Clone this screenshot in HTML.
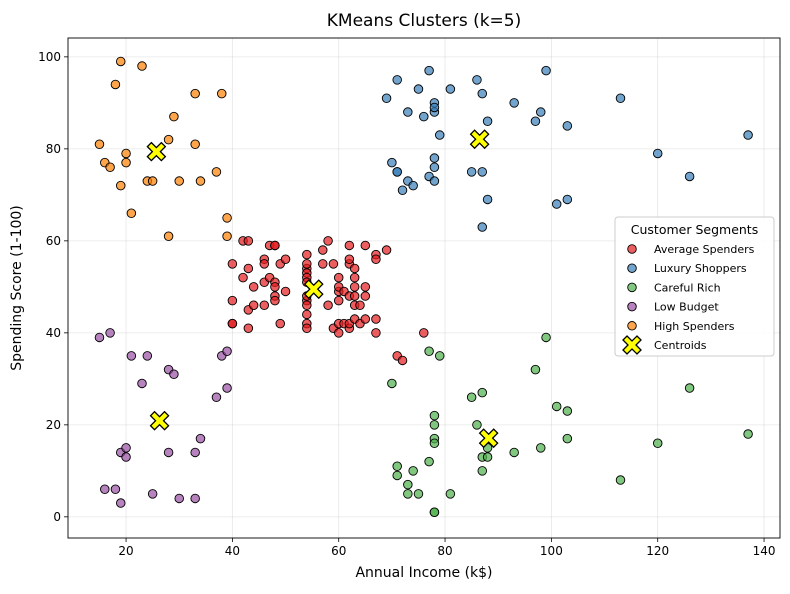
<!DOCTYPE html>
<html><head><meta charset="utf-8"><style>
body{margin:0;background:#fff;font-family:"Liberation Sans","DejaVu Sans",sans-serif}
svg text{font-family:"DejaVu Sans","Liberation Sans",sans-serif}
</style></head><body>
<svg id="chart" width="790" height="589" xmlns="http://www.w3.org/2000/svg"></svg>
<script>
const income=[15,15,16,16,17,17,18,18,19,19,19,19,20,20,20,20,21,21,23,23,24,24,25,25,28,28,28,28,29,29,30,30,33,33,33,33,34,34,37,37,38,38,39,39,39,39,40,40,40,40,42,42,43,43,43,43,44,44,46,46,46,46,47,47,48,48,48,48,48,48,49,49,50,50,54,54,54,54,54,54,54,54,54,54,54,54,57,57,58,58,59,59,60,60,60,60,60,60,61,61,62,62,62,62,62,62,63,63,63,63,63,63,64,64,65,65,65,65,67,67,67,67,69,69,70,70,71,71,71,71,71,71,72,72,73,73,73,73,74,74,75,75,76,76,77,77,77,77,78,78,78,78,78,78,78,78,78,78,78,78,79,79,81,81,85,85,86,86,87,87,87,87,87,87,88,88,88,88,93,93,97,97,98,98,99,99,101,101,103,103,103,103,113,113,120,120,126,126,137,137];
const score=[39,81,6,77,40,76,6,94,3,72,14,99,15,77,13,79,35,66,29,98,35,73,5,73,14,82,32,61,31,87,4,73,4,92,14,81,17,73,26,75,35,92,36,61,28,65,55,47,42,42,52,60,54,60,45,41,50,46,51,46,56,55,52,59,51,59,50,48,59,47,55,42,49,56,47,54,53,48,52,42,51,55,41,44,57,46,58,55,60,46,55,41,49,40,42,52,47,50,42,49,41,48,59,55,56,42,50,46,43,48,52,54,42,46,48,50,43,59,43,57,56,40,58,91,29,77,35,95,11,75,9,75,34,71,5,88,7,73,10,72,5,93,40,87,12,97,36,74,22,90,17,88,20,76,16,89,1,78,1,73,35,83,5,93,26,75,20,95,27,63,13,75,10,92,13,86,15,69,14,90,32,86,15,88,39,97,24,68,17,85,23,69,8,91,16,79,28,74,18,83];
const labels=("3434343434343434343434343434343434343434343434"+"0000000000"+"0000000000"+"0000000000"+"0000000000"+"0000000000"+"0000000000"+"0000000000"+"0000000"+"121012121012121212101"+"21212121212121212121212121212121212121212121212121212121").split("").map(Number);
const clusterNames=["Average Spenders","Luxury Shoppers","Careful Rich","Low Budget","High Spenders"];
const clusterColors=["#e41a1c","#377eb8","#4daf4a","#984ea3","#ff7f00"];
const centroidX=[55.3,86.5,88.2,26.3,25.7];
const centroidY=[49.5,82.1,17.1,20.9,79.4];
const xTicks=[20,40,60,80,100,120,140];
const yTicks=[0,20,40,60,80,100];

const NS="http://www.w3.org/2000/svg";
const svg=document.getElementById("chart");
const L=68,R=780,T=38,B=538;
const xMin=9.08,xMax=143.0,yMin=-4.6,yMax=104.1;
const sx=v=>L+(v-xMin)/(xMax-xMin)*(R-L);
const sy=v=>B-(v-yMin)/(yMax-yMin)*(B-T);
function mk(tag,attrs,parent){const e=document.createElementNS(NS,tag);for(const k in attrs)e.setAttribute(k,attrs[k]);(parent||svg).appendChild(e);return e;}

const title=mk("text",{x:(L+R)/2,y:26,"text-anchor":"middle","font-size":"17"});
title.textContent="KMeans Clusters (k=5)";



const grid=mk("g",{});


xTicks.forEach(t=>{
  mk("line",{x1:sx(t),x2:sx(t),y1:T,y2:B,stroke:"#b0b0b0","stroke-opacity":0.3,"stroke-width":0.8},grid);
  mk("line",{x1:sx(t),x2:sx(t),y1:B,y2:B+4,stroke:"#000","stroke-width":0.8});
  const tx=mk("text",{x:sx(t),y:B+17,"text-anchor":"middle","font-size":"12"});
  tx.textContent=t;
  
  
});
yTicks.forEach(t=>{
  mk("line",{x1:L,x2:R,y1:sy(t),y2:sy(t),stroke:"#b0b0b0","stroke-opacity":0.3,"stroke-width":0.8},grid);
  mk("line",{x1:L-4,x2:L,y1:sy(t),y2:sy(t),stroke:"#000","stroke-width":0.8});
  const ty=mk("text",{x:L-7,y:sy(t)+4,"text-anchor":"end","font-size":"12"});
  ty.textContent=t;
  
  
});

const pts=mk("g",{});


for(let i=0;i<income.length;i++){
  const c=mk("circle",{cx:sx(income[i]),cy:sy(score[i]),r:4.3,fill:clusterColors[labels[i]],"fill-opacity":0.7,stroke:"#000","stroke-width":0.9},pts);
  
  
}
const X_PATH="M-5,-9 L0,-4 L5,-9 L9,-5 L4,0 L9,5 L5,9 L0,4 L-5,9 L-9,5 L-4,0 L-9,-5 Z";
for(let k=0;k<centroidX.length;k++){
  const p=mk("path",{d:X_PATH,transform:`translate(${sx(centroidX[k])},${sy(centroidY[k])})`,fill:"#ffff00",stroke:"#000","stroke-width":1.3,"stroke-linejoin":"miter"});
  
  
}

const frame=mk("rect",{x:L,y:T,width:R-L,height:B-T,fill:"none",stroke:"#000","stroke-width":0.9});



const xl=mk("text",{x:(L+R)/2,y:577,"text-anchor":"middle","font-size":"14"});
xl.textContent="Annual Income (k$)";


const yl=mk("text",{x:0,y:0,"text-anchor":"middle","font-size":"14",transform:`translate(21,${(T+B)/2}) rotate(-90)`});
yl.textContent="Spending Score (1-100)";



const lg=mk("g",{});


mk("rect",{x:615,y:217,width:159,height:139,rx:3,fill:"#fff","fill-opacity":0.85,stroke:"#ccc","stroke-width":1},lg);
const lt=mk("text",{x:694.5,y:234,"text-anchor":"middle","font-size":"12.5"},lg);
lt.textContent="Customer Segments";


clusterNames.forEach((n,k)=>{
  const y=249+k*19.2;
  const e=mk("g",{},lg);
  
  
  mk("circle",{cx:632,cy:y,r:4.3,fill:clusterColors[k],"fill-opacity":0.7,stroke:"#000","stroke-width":0.9},e);
  const t=mk("text",{x:654,y:y+4,"font-size":"11"},e);
  t.textContent=n;
});
const ce=mk("g",{},lg);


mk("path",{d:X_PATH,transform:"translate(632,345)",fill:"#ffff00",stroke:"#000","stroke-width":1.3},ce);
const ct=mk("text",{x:654,y:349,"font-size":"11"},ce);
ct.textContent="Centroids";
</script>
</body></html>
